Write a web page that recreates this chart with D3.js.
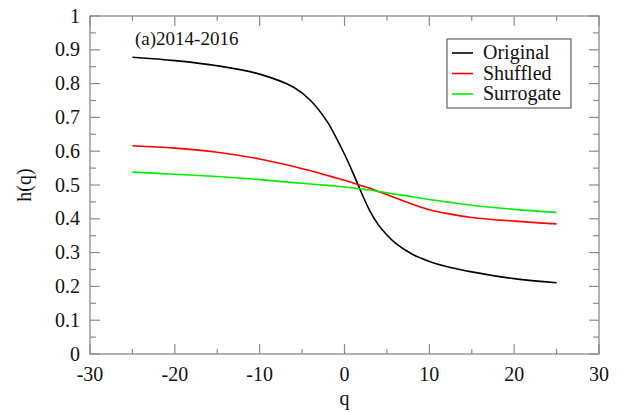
<!DOCTYPE html>
<html>
<head>
<meta charset="utf-8">
<script src="https://cdn.jsdelivr.net/npm/d3@7"></script>
<style>
  html, body { margin: 0; padding: 0; background: #fff; }
  svg { display: block; }
</style>
</head>
<body>
<svg id="chart" width="623" height="412" font-family="'Liberation Serif', 'Times New Roman', Tinos, 'Nimbus Roman', 'DejaVu Serif', serif"></svg>
<script>
// Generalized Hurst exponent h(q) for the 2014-2016 window
const qValues = [-25, -20, -15, -10, -6, -4, -2, -1, 0, 1, 2, 3, 4, 5, 6, 8, 10, 12, 15, 20, 25];
const original = [0.878, 0.868, 0.853, 0.828, 0.789, 0.750, 0.686, 0.641, 0.591, 0.536, 0.477, 0.423, 0.382, 0.352, 0.328, 0.295, 0.274, 0.259, 0.243, 0.223, 0.211];
const shuffled = [0.616, 0.609, 0.597, 0.577, 0.555, 0.542, 0.528, 0.521, 0.514, 0.506, 0.498, 0.490, 0.481, 0.472, 0.462, 0.443, 0.427, 0.416, 0.404, 0.393, 0.385];
const surrogate = [0.538, 0.532, 0.525, 0.516, 0.507, 0.503, 0.499, 0.497, 0.494, 0.491, 0.488, 0.485, 0.481, 0.477, 0.473, 0.465, 0.457, 0.450, 0.440, 0.428, 0.419];
const seriesNames = ["Original", "Shuffled", "Surrogate"];
const seriesColors = ["#000000", "#ff0000", "#00ee00"];
const xTicks = [-30, -20, -10, 0, 10, 20, 30];
const yTicks = [0, 0.1, 0.2, 0.3, 0.4, 0.5, 0.6, 0.7, 0.8, 0.9, 1];
const panelLabel = "(a)2014-2016";

const svg = d3.select("#chart");
const W = 623, H = 412;
const margin = { top: 16, right: 24, bottom: 58, left: 90 };
const iw = W - margin.left - margin.right;
const ih = H - margin.top - margin.bottom;

const x = d3.scaleLinear().domain([-30, 30]).range([0, iw]);
const y = d3.scaleLinear().domain([0, 1]).range([ih, 0]);

const g = svg.append("g").attr("transform", `translate(${margin.left},${margin.top})`);
const axisColor = "#8a8a8a";
const fontSize = 20;

// frame
g.append("rect").attr("width", iw).attr("height", ih)
  .attr("fill", "none").attr("stroke", axisColor).attr("stroke-width", 1.3);

// inward ticks on all four sides (major + minor)
const xMinor = d3.range(-25, 30, 10);
const yMinor = d3.range(0.05, 1, 0.1);
const tickG = g.append("g").attr("stroke", axisColor).attr("stroke-width", 1.2);
xTicks.forEach(t => {
  tickG.append("line").attr("x1", x(t)).attr("x2", x(t)).attr("y1", ih).attr("y2", ih - 10);
  tickG.append("line").attr("x1", x(t)).attr("x2", x(t)).attr("y1", 0).attr("y2", 10);
});
xMinor.forEach(t => {
  tickG.append("line").attr("x1", x(t)).attr("x2", x(t)).attr("y1", ih).attr("y2", ih - 5);
  tickG.append("line").attr("x1", x(t)).attr("x2", x(t)).attr("y1", 0).attr("y2", 5);
});
yTicks.forEach(t => {
  tickG.append("line").attr("y1", y(t)).attr("y2", y(t)).attr("x1", 0).attr("x2", 10);
  tickG.append("line").attr("y1", y(t)).attr("y2", y(t)).attr("x1", iw).attr("x2", iw - 10);
});
yMinor.forEach(t => {
  tickG.append("line").attr("y1", y(t)).attr("y2", y(t)).attr("x1", 0).attr("x2", 6);
  tickG.append("line").attr("y1", y(t)).attr("y2", y(t)).attr("x1", iw).attr("x2", iw - 6);
});

// tick labels
g.append("g").selectAll("text").data(xTicks).join("text")
  .attr("x", d => x(d)).attr("y", ih + 27)
  .attr("text-anchor", "middle").attr("font-size", fontSize).attr("fill", "#111")
  .text(d => d);
g.append("g").selectAll("text").data(yTicks).join("text")
  .attr("x", -10).attr("y", d => y(d) + 6.5)
  .attr("text-anchor", "end").attr("font-size", fontSize).attr("fill", "#111")
  .text(d => d3.format("~g")(d));

// axis titles
svg.append("text").attr("x", margin.left + x(0)).attr("y", 405)
  .attr("text-anchor", "middle").attr("font-size", fontSize).attr("fill", "#111").text("q");
svg.append("text").attr("transform", `translate(31,${margin.top + ih / 2}) rotate(-90)`)
  .attr("text-anchor", "middle").attr("font-size", fontSize).attr("fill", "#111").text("h(q)");

// curves
const line = d3.line().x(d => x(d[0])).y(d => y(d[1])).curve(d3.curveCatmullRom.alpha(0.5));
[original, shuffled, surrogate].forEach((vals, i) => {
  g.append("path")
    .datum(qValues.map((q, j) => [q, vals[j]]))
    .attr("fill", "none").attr("stroke", seriesColors[i]).attr("stroke-width", 1.6)
    .attr("d", line);
});

// panel label
g.append("text").attr("x", 45).attr("y", 29)
  .attr("font-size", 19).attr("fill", "#111").text(panelLabel);

// legend
const lg = svg.append("g").attr("transform", "translate(447,39)");
lg.append("rect").attr("width", 124).attr("height", 69)
  .attr("fill", "#fff").attr("stroke", "#555").attr("stroke-width", 1.1);
seriesNames.forEach((name, i) => {
  const yy = 14 + i * 20.5;
  lg.append("line").attr("x1", 5).attr("x2", 26).attr("y1", yy).attr("y2", yy)
    .attr("stroke", seriesColors[i]).attr("stroke-width", 1.6);
  lg.append("text").attr("x", 36).attr("y", yy + 6).attr("font-size", fontSize)
    .attr("fill", "#111").text(name);
});
</script>
</body>
</html>
